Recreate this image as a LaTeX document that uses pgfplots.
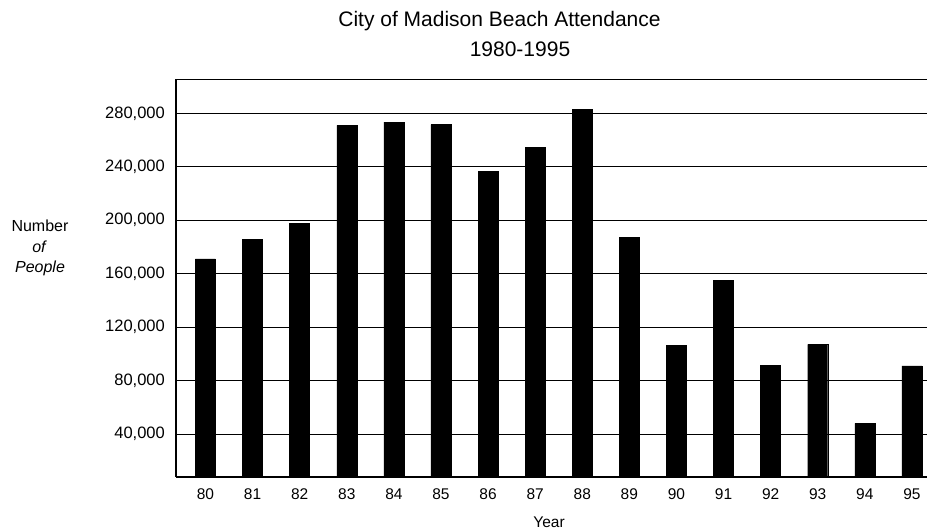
\documentclass[border=0pt]{standalone}
\usepackage{pgfplots}
\pgfplotsset{compat=1.18}
\usepackage{fontspec}
\setmainfont{Liberation Sans}
\begin{document}
\begin{tikzpicture}[x=1pt,y=1pt]
\path[use as bounding box] (0,0) rectangle (927,531);
\begin{axis}[
  at={(176pt,54pt)}, anchor=south west,
  scale only axis, width=751pt, height=398pt,
  ybar, bar width=20pt,
  xmin=-0.626, xmax=15.32,
  ymin=7800, ymax=305700,
  axis lines*=left,
  axis line style={line width=1.2pt},
  ytick={40000,80000,...,280000},
  ymajorgrids, grid style={black, line width=0.7pt},
  extra y ticks={305700}, extra y tick labels={},
  extra y tick style={grid=major},
  xtick={0,...,15},
  xticklabels={80,81,82,83,84,85,86,87,88,89,90,91,92,93,94,95},
  tick style={draw=none},
  scaled y ticks=false,
  /pgf/number format/.cd, fixed, 1000 sep={,}, assume math mode=true,
  /pgfplots/.cd,
  yticklabel style={font=\fontsize{16.5}{17}\selectfont, inner sep=0pt, xshift=-11pt},
  xticklabel style={font=\fontsize{15.5}{16}\selectfont, inner sep=0pt, yshift=-7pt},
  clip=true,
]
\addplot[fill=black, draw=black] coordinates {
(0,171000) (1,185500) (2,197500) (3,271000) (4,273500) (5,271500)
(6,236500) (7,254500) (8,283000) (9,187000) (10,106500) (11,155000)
(12,91500) (13,107000) (14,48000) (15,91000)};
\end{axis}
\node[anchor=base, font=\fontsize{21}{22}\selectfont] at (499.5,504) {City of Madison Beach Attendance};
\node[anchor=base, font=\fontsize{21}{22}\selectfont] at (520,474) {1980-1995};
\node[anchor=base, font=\fontsize{16}{17}\selectfont] at (40,299) {Number};
\node[anchor=base, font=\fontsize{16}{17}\selectfont\itshape] at (39,278) {of};
\node[anchor=base, font=\fontsize{16}{17}\selectfont\itshape] at (40,258) {People};
\node[anchor=base, font=\fontsize{15.5}{16}\selectfont] at (549,4) {Year};
\end{tikzpicture}
\end{document}
